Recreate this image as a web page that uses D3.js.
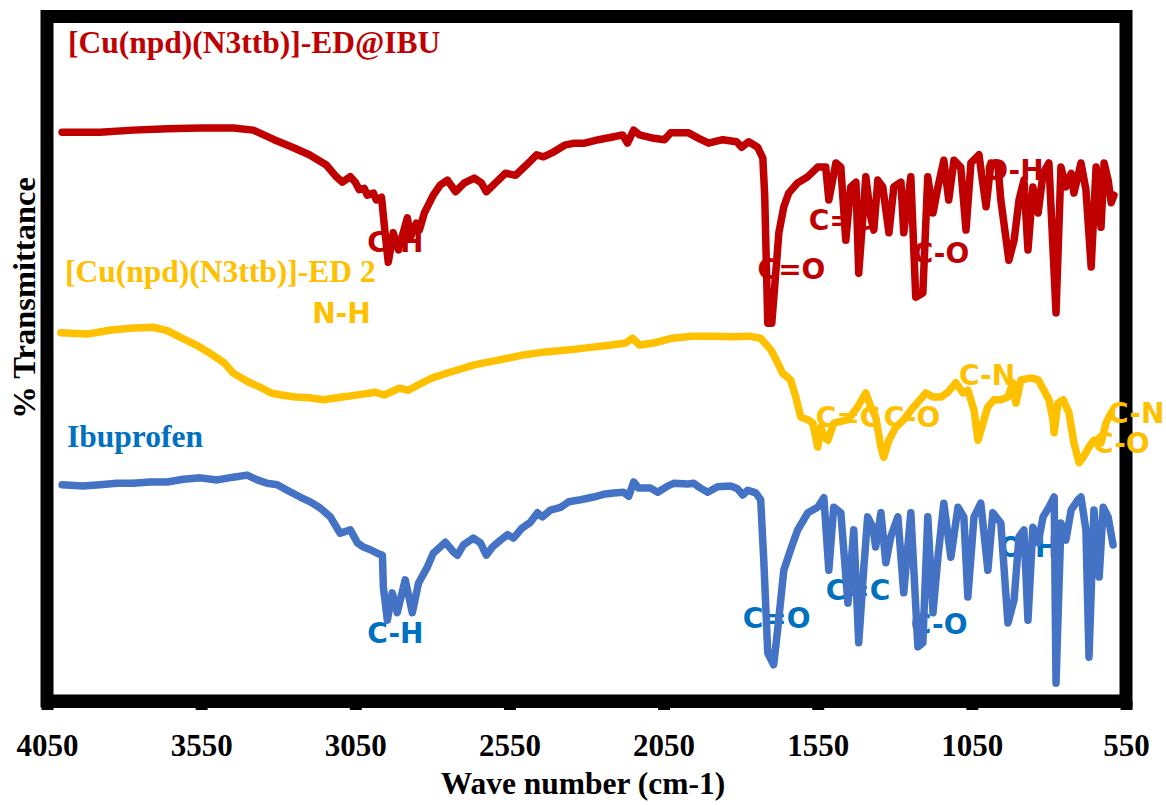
<!DOCTYPE html>
<html><head><meta charset="utf-8">
<script src="https://cdn.jsdelivr.net/npm/d3@7"></script>
<style>body{margin:0;background:#fff}</style>
</head><body>
<svg id="c" width="1166" height="805"></svg>
<script>
// ---- data ----
const xTicks = [4050, 3550, 3050, 2550, 2050, 1550, 1050, 550];

const redWn = [4001,3878,3771,3660,3553,3446,3381,3313,3254,3199,3144,3112,3092,3066,3050,3037,3021,3011,2991,2982,2965,2952,2943,2927,2910,2881,2871,2852,2842,2826,2797,2774,2751,2725,2696,2664,2641,2625,2595,2563,2530,2495,2462,2440,2407,2371,2339,2306,2261,2215,2183,2167,2147,2128,2082,2047,2027,1969,1936,1904,1858,1813,1797,1774,1745,1728,1722,1712,1699,1693,1676,1660,1644,1615,1582,1550,1524,1514,1491,1475,1459,1443,1426,1417,1394,1378,1368,1355,1339,1319,1303,1280,1271,1248,1232,1209,1193,1176,1160,1141,1125,1108,1086,1069,1053,1027,1004,988,965,956,930,913,897,881,868,852,835,819,800,777,761,745,728,719,696,680,663,647,631,621,608,598,589];
const redT = [83.1,83.1,83.4,83.6,83.7,83.7,83.4,82.0,80.9,79.8,78.3,76.6,75.8,76.6,75.8,74.7,74.9,73.9,74.2,73.2,73.6,67.8,64.1,68.4,65.9,70.6,67.8,69.8,68.8,71.3,73.9,75.4,76.1,74.4,75.7,76.4,75.7,74.4,75.7,77.1,76.8,78.3,79.8,79.5,80.2,81.2,81.5,81.5,82.0,82.4,82.7,81.5,83.4,82.7,82.2,82.0,83.0,83.0,82.2,81.5,82.0,81.7,80.9,81.7,80.9,79.3,73.9,55.2,55.2,58.6,68.4,72.2,74.2,75.7,76.6,78.0,78.0,73.2,78.6,78.0,67.3,75.1,75.8,62.5,76.6,70.7,68.8,76.1,75.1,68.4,75.1,75.8,68.4,76.6,59.0,59.6,76.6,71.3,75.1,79.0,73.2,79.0,78.0,68.8,78.6,79.8,72.2,78.6,78.0,73.2,64.4,67.3,73.2,76.1,65.9,75.1,71.3,77.1,78.6,56.7,78.0,75.1,77.1,74.2,78.6,74.7,63.4,78.0,69.2,78.6,76.1,72.8,73.9];

const goldWn = [4005,3920,3842,3768,3706,3660,3612,3566,3521,3475,3446,3397,3352,3323,3290,3245,3199,3154,3092,3030,2985,2956,2907,2878,2845,2800,2738,2664,2586,2511,2433,2355,2280,2219,2173,2151,2128,2082,2021,1959,1897,1819,1774,1735,1702,1680,1664,1638,1621,1605,1582,1566,1550,1540,1530,1517,1498,1452,1420,1394,1378,1362,1345,1336,1319,1297,1271,1238,1199,1176,1150,1128,1102,1079,1063,1043,1030,1014,998,978,956,933,917,907,891,858,835,816,800,787,783,771,754,735,719,702,689,670,654,631,615,598];
const goldT = [53.8,53.6,54.2,54.5,54.6,54.1,53.0,52.0,50.8,49.4,47.9,46.6,45.7,45.0,44.7,44.4,44.3,44.0,44.4,44.8,45.1,44.7,45.7,45.4,46.2,47.2,48.1,49.1,49.8,50.5,51.0,51.3,51.7,52.0,52.3,53.0,52.0,52.3,53.0,53.3,53.3,53.2,53.3,53.0,51.3,49.4,47.9,46.9,44.4,41.5,41.1,40.6,37.1,40.0,38.6,38.1,40.6,41.1,43.0,45.0,43.0,41.5,37.1,35.6,38.1,40.0,41.1,43.0,45.0,44.4,44.4,45.1,46.5,45.0,45.4,42.5,38.1,40.6,43.0,44.0,44.0,44.4,46.5,43.5,46.9,47.2,46.9,45.4,44.0,41.1,39.2,43.5,44.0,42.1,37.7,34.8,35.6,37.1,38.1,37.7,40.6,42.1];

const blueWn = [4001,3933,3878,3823,3771,3716,3660,3608,3553,3498,3446,3401,3368,3336,3303,3271,3229,3196,3164,3131,3099,3066,3043,3024,3001,2979,2962,2959,2946,2930,2914,2888,2865,2845,2816,2797,2758,2732,2719,2699,2667,2644,2625,2605,2579,2556,2537,2508,2482,2459,2443,2417,2384,2358,2319,2277,2245,2212,2180,2163,2147,2131,2092,2069,2037,2017,1972,1952,1930,1907,1875,1832,1810,1793,1777,1751,1735,1725,1712,1693,1680,1660,1638,1615,1582,1550,1530,1514,1498,1475,1452,1433,1417,1401,1388,1371,1362,1345,1329,1313,1290,1271,1248,1225,1209,1193,1176,1160,1141,1118,1095,1076,1063,1043,1021,998,982,956,933,913,897,881,868,852,835,819,800,783,777,761,745,728,706,696,680,670,654,637,624,608,592];
const blueT = [31.6,31.4,31.6,31.8,31.8,32.0,32.0,32.4,32.6,32.3,32.7,33.0,32.3,31.8,31.6,30.8,29.8,29.1,28.2,26.9,24.5,25.0,23.1,22.5,22.1,21.6,21.3,16.7,11.8,15.8,12.9,17.7,12.9,17.2,19.6,21.6,23.2,21.8,21.3,22.8,23.8,23.1,21.3,22.5,23.5,24.3,23.8,25.3,26.1,27.5,26.9,27.9,28.3,29.1,29.4,29.8,30.2,30.4,30.5,29.9,32.0,31.1,31.1,30.5,31.4,31.8,31.7,31.8,31.1,30.5,31.3,31.4,31.0,30.1,30.8,30.4,29.4,20.6,7.0,5.3,10.4,19.1,22.1,25.0,27.5,28.3,29.7,19.1,28.3,27.5,14.3,25.0,8.5,19.1,26.9,25.4,22.5,27.5,20.2,24.0,26.9,15.8,27.5,7.9,8.5,26.9,12.9,21.0,28.9,21.0,28.3,26.9,15.2,26.9,28.9,19.1,27.5,26.0,11.4,14.8,24.0,25.0,11.8,25.4,23.1,26.9,28.3,29.8,2.6,26.0,23.5,27.9,29.4,29.8,25.0,6.4,27.9,18.1,28.3,26.9,22.8];

const seriesNames = ["[Cu(npd)(N3ttb)]-ED@IBU", "[Cu(npd)(N3ttb)]-ED 2", "Ibuprofen"];

// peak annotations (text, wavenumber, transmittance at text baseline)
const peakText = ["C-H","C=O","C=C","C-O","O-H",
                  "N-H","C=C","C-O","C-N","C-N","C-O",
                  "C-H","C=O","C=C","C-O","O-H"];
const peakWn   = [3011,1745,1579,1242,1010,
                  3190,1556,1336,1092,608,657,
                  3011,1793,1524,1248,962];
const peakT    = [65.6,61.7,68.8,64.0,76.1,
                  55.2,40.0,40.0,46.2,40.6,36.2,
                  8.5,10.7,14.8,9.8,21.0];
const peakSeries = [0,0,0,0,0, 1,1,1,1,1,1, 2,2,2,2,2];

// ---- drawing ----
const lineColors = ["#C00000", "#FFC000", "#4472C4"];
const textColors = ["#C00000", "#FFC000", "#0070C0"];
const serif = "'Liberation Serif','Times New Roman',serif";
const sans = "'DejaVu Sans',Verdana,sans-serif";

const svg = d3.select("#c");
const x = d3.scaleLinear().domain([4050, 550]).range([47, 1126]);
const y = d3.scaleLinear().domain([0, 100]).range([701, 16.5]);

// frame
svg.append("rect")
  .attr("x", x(4050)).attr("y", y(100))
  .attr("width", x(550) - x(4050)).attr("height", y(0) - y(100))
  .attr("fill", "none").attr("stroke", "#000").attr("stroke-width", 13);

// x axis ticks
const ax = svg.append("g").attr("transform", `translate(0,${y(0)})`)
  .call(d3.axisBottom(x).tickValues(xTicks).tickSize(9).tickSizeOuter(0).tickFormat(d3.format("d")));
ax.select(".domain").attr("stroke", "#000").attr("stroke-width", 13);
ax.selectAll(".tick line").attr("stroke", "#000").attr("stroke-width", 12);
ax.selectAll(".tick text")
  .attr("y", 55).attr("dy", 0)
  .attr("font-family", serif).attr("font-weight", "bold")
  .attr("font-size", 31).attr("fill", "#000");

// axis titles
svg.append("text").attr("x", 583).attr("y", 794).attr("text-anchor", "middle")
  .attr("font-family", serif).attr("font-weight", "bold").attr("font-size", 31.5)
  .text("Wave number (cm-1)");
svg.append("text").attr("transform", "translate(35,298) rotate(-90)").attr("text-anchor", "middle")
  .attr("font-family", serif).attr("font-weight", "bold").attr("font-size", 32.5)
  .text("% Transmittance");

// series titles
const titlePos = [[68, 53], [65, 282], [67, 447]];
seriesNames.forEach((n, i) => {
  svg.append("text").attr("x", titlePos[i][0]).attr("y", titlePos[i][1])
    .attr("font-family", serif).attr("font-weight", "bold").attr("font-size", 31.5)
    .attr("fill", textColors[i]).text(n);
});

// peak labels
svg.append("g").selectAll("text").data(peakText).join("text")
  .attr("x", (d, i) => x(peakWn[i])).attr("y", (d, i) => y(peakT[i]))
  .attr("font-family", sans).attr("font-weight", "bold").attr("font-size", 28)
  .attr("fill", (d, i) => textColors[peakSeries[i]]).text(d => d);

// curves
const line = d3.line().x(d => x(d[0])).y(d => y(d[1]));
const series = [[redWn, redT], [goldWn, goldT], [blueWn, blueT]];
series.forEach(([wn, t], i) => {
  svg.append("path").datum(wn.map((w, j) => [w, t[j]]))
    .attr("d", line).attr("fill", "none").attr("stroke", lineColors[i])
    .attr("stroke-width", 7.5).attr("stroke-linejoin", "round").attr("stroke-linecap", "round");
});
</script>
</body></html>
